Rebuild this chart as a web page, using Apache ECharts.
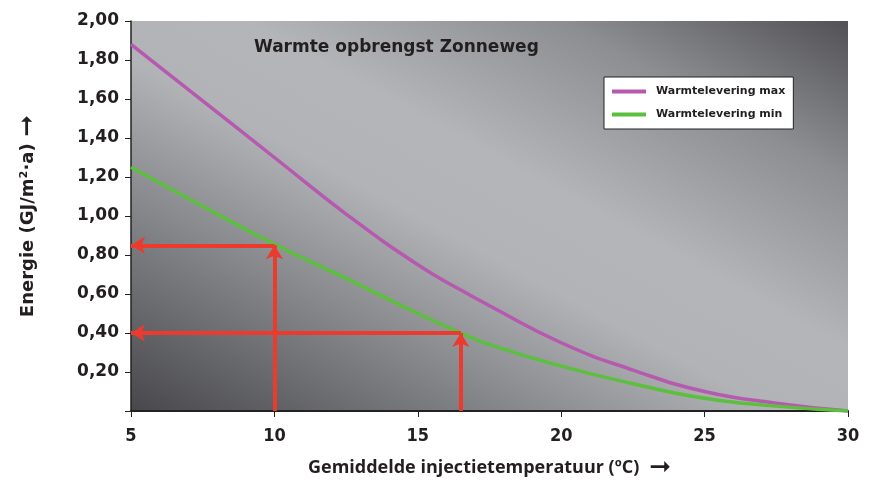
<!DOCTYPE html>
<html>
<head>
<meta charset="utf-8">
<script src="https://cdn.jsdelivr.net/npm/echarts@6/dist/echarts.min.js"></script>
<style>
  html, body { margin: 0; padding: 0; background: #fff; }
  #chart { width: 878px; height: 482px; }
</style>
</head>
<body>
<div id="chart"></div>
<script>
// temperaturen (x) en energie (y)
const temps = [5, 7.5, 10, 12.5, 15, 16.5, 17.5, 20, 22.5, 25, 27.5, 30]
const maxValues = [1.88, 1.59, 1.30, 1.01, 0.75, 0.62, 0.54, 0.35, 0.21, 0.10, 0.04, 0.00]
const minValues = [1.25, 1.05, 0.855, 0.68, 0.50, 0.40, 0.34, 0.23, 0.14, 0.065, 0.025, 0.00]
// afleespijlen
const readX = [10, 16.5]
const readY = [0.85, 0.40]
const xTicks = [5, 10, 15, 20, 25, 30]

const chart = echarts.init(document.getElementById('chart'))

const arrows = []
readX.forEach((x, i) => {
  arrows.push([{ coord: [x, 0] }, { coord: [x, readY[i]] }])
  arrows.push([{ coord: [x, readY[i]] }, { coord: [xTicks[0], readY[i]] }])
})

const option = {
  animation: false,
  title: {
    text: 'Warmte opbrengst Zonneweg',
    left: 249,
    top: 34,
    textStyle: { fontFamily: 'DejaVu Sans', fontWeight: 'bold', fontSize: 17, color: '#231f20' }
  },
  legend: {
    orient: 'vertical',
    left: 604,
    top: 77,
    width: 191,
    padding: [9, 8, 9, 8],
    itemGap: 12,
    itemWidth: 34,
    itemHeight: 4,
    icon: 'rect',
    backgroundColor: '#fff',
    borderColor: '#222',
    borderWidth: 1,
    borderRadius: 0,
    data: ['Warmtelevering max', 'Warmtelevering min'],
    textStyle: { fontFamily: 'DejaVu Sans', fontWeight: 'bold', fontSize: 11, color: '#231f20', padding: [0, 0, 0, 5] }
  },
  grid: {
    left: 131,
    right: 30,
    top: 21,
    bottom: 71,
    outerBoundsMode: 'none',
    show: true,
    borderWidth: 0,
    // licht over de diagonaal linksboven - rechtsonder
    backgroundColor: new echarts.graphic.LinearGradient(0.272, 1.271, 0.728, -0.271, [
      { offset: 0, color: '#47474c' },
      { offset: 0.22, color: '#7b7c80' },
      { offset: 0.45, color: '#b1b3b6' },
      { offset: 0.58, color: '#b3b5b8' },
      { offset: 0.8, color: '#8d8e92' },
      { offset: 1, color: '#525256' }
    ])
  },
  xAxis: {
    type: 'value',
    min: 5,
    max: 30,
    interval: 5,
    name: '{t|Gemiddelde injectietemperatuur (ºC)}   {a|➞}',
    nameLocation: 'middle',
    nameGap: 44,
    nameTextStyle: {
      rich: {
        t: { fontFamily: 'Open Sans', fontWeight: 'bold', fontSize: 18, color: '#231f20' },
        a: { fontFamily: 'DejaVu Sans', fontSize: 26, color: '#231f20' }
      }
    },
    axisLine: { lineStyle: { color: '#222', width: 2 } },
    axisTick: { show: true, length: 6, lineStyle: { color: '#222', width: 1 } },
    axisLabel: {
      margin: 16,
      fontFamily: 'Liberation Sans Narrow, DejaVu Sans Condensed',
      fontWeight: 'bold',
      fontSize: 18,
      color: '#231f20',
      customValues: xTicks
    },
    splitLine: { show: false }
  },
  yAxis: {
    type: 'value',
    min: 0,
    max: 2,
    interval: 0.2,
    name: '{t|Energie (GJ/m²·a)}  {a|➞}',
    nameLocation: 'middle',
    nameGap: 90,
    nameRotate: 90,
    nameTextStyle: {
      rich: {
        t: { fontFamily: 'DejaVu Sans', fontWeight: 'bold', fontSize: 18, color: '#231f20' },
        a: { fontFamily: 'DejaVu Sans', fontSize: 26, color: '#231f20' }
      }
    },
    axisLine: { show: true, lineStyle: { color: '#222', width: 1.5 } },
    axisTick: { show: true, length: 6, lineStyle: { color: '#222', width: 1 } },
    axisLabel: {
      margin: 12,
      fontFamily: 'DejaVu Sans',
      fontWeight: 'bold',
      fontSize: 17,
      color: '#231f20',
      formatter: v => (v === 0 ? '' : v.toFixed(2).replace('.', ','))
    },
    splitLine: { show: false }
  },
  series: [
    {
      name: 'Warmtelevering max',
      type: 'line',
      smooth: true,
      symbol: 'none',
      color: '#b55aae',
      lineStyle: { width: 3.5, color: '#b55aae' },
      data: temps.map((t, i) => [t, maxValues[i]])
    },
    {
      name: 'Warmtelevering min',
      type: 'line',
      smooth: true,
      symbol: 'none',
      color: '#5cbf3e',
      lineStyle: { width: 3.5, color: '#5cbf3e' },
      data: temps.map((t, i) => [t, minValues[i]]),
      markLine: {
        silent: true,
        symbol: ['none', 'arrow'],
        symbolSize: [13, 14],
        label: { show: false },
        lineStyle: { type: 'solid', color: '#ec3a2e', width: 4 },
        emphasis: { disabled: true },
        data: arrows
      }
    }
  ]
}

chart.setOption(option)
</script>
</body>
</html>
